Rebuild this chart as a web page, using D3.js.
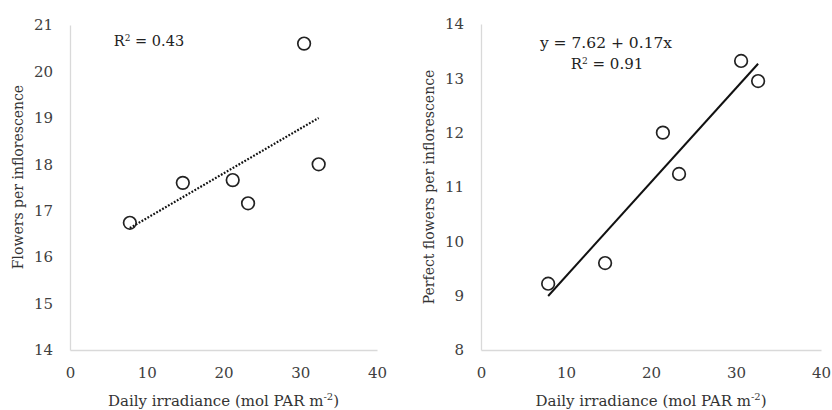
<!DOCTYPE html>
<html>
<head>
<meta charset="utf-8">
<script src="https://cdn.jsdelivr.net/npm/d3@7"></script>
<style>
    body { margin: 0; background: #fff; }
    svg { display: block; }
    text { font-family: "DejaVu Serif", "Liberation Serif", serif; }
</style>
</head>
<body>
<div id="chart"></div>
<script>
"use strict";

// panel A: flowers per inflorescence
const irradianceA = [7.8, 14.7, 21.2, 23.2, 30.5, 32.4];
const flowersA = [16.74, 17.6, 17.66, 17.16, 20.6, 18.0];
// panel B: perfect flowers per inflorescence
const irradianceB = [7.9, 14.6, 21.4, 23.3, 30.6, 32.6];
const perfectB = [9.22, 9.6, 12.0, 11.24, 13.32, 12.95];

const xTicks = [0, 10, 20, 30, 40];
const yTicksA = [14, 15, 16, 17, 18, 19, 20, 21];
const yTicksB = [8, 9, 10, 11, 12, 13, 14];

const width = 832;
const height = 410;

const svg = d3
    .select("#chart")
    .append("svg")
    .attr("width", width)
    .attr("height", height);

function linearFit(xs, ys) {
    const mx = d3.mean(xs);
    const my = d3.mean(ys);
    let sxy = 0;
    let sxx = 0;
    xs.forEach((x, i) => {
        sxy += (x - mx) * (ys[i] - my);
        sxx += (x - mx) * (x - mx);
    });
    const slope = sxy / sxx;
    return { slope, intercept: my - slope * mx };
}

function drawPanel(opt) {
    const xScale = d3.scaleLinear().domain([0, 40]).range(opt.xRange);
    const yScale = d3
        .scaleLinear()
        .domain(d3.extent(opt.yTicks))
        .range(opt.yRange);

    const g = svg.append("g");

    // axes
    const xAxis = d3
        .axisBottom(xScale)
        .tickValues(xTicks)
        .tickFormat(d3.format("d"))
        .tickSize(0)
        .tickSizeOuter(0)
        .tickPadding(17);
    const gx = g
        .append("g")
        .attr("transform", `translate(0, ${opt.yRange[0]})`)
        .call(xAxis);

    const yAxis = d3
        .axisLeft(yScale)
        .tickValues(opt.yTicks)
        .tickFormat(d3.format("d"))
        .tickSize(0)
        .tickSizeOuter(0)
        .tickPadding(17);
    const gy = g
        .append("g")
        .attr("transform", `translate(${opt.xRange[0]}, 0)`)
        .call(yAxis);

    [gx, gy].forEach(a => {
        a.select(".domain").attr("stroke", "#d9d9d9").attr("stroke-width", 1.3);
        a.selectAll("text")
            .attr("fill", "#404040")
            .style("font-size", "15px")
            .style("font-family", "DejaVu Serif");
    });

    // trend line
    const fit = linearFit(opt.xs, opt.ys);
    const x0 = d3.min(opt.xs);
    const x1 = d3.max(opt.xs);
    g.append("line")
        .attr("x1", xScale(x0))
        .attr("y1", yScale(fit.intercept + fit.slope * x0))
        .attr("x2", xScale(x1))
        .attr("y2", yScale(fit.intercept + fit.slope * x1))
        .attr("stroke", "#111")
        .attr("stroke-width", opt.dotted ? 2.2 : 2)
        .attr("stroke-dasharray", opt.dotted ? "1.8,1.6" : null);

    // points
    g.selectAll("circle")
        .data(opt.xs)
        .enter()
        .append("circle")
        .attr("cx", d => xScale(d))
        .attr("cy", (_, i) => yScale(opt.ys[i]))
        .attr("r", 6.3)
        .attr("fill", "#fff")
        .attr("fill-opacity", 0)
        .attr("stroke", "#222")
        .attr("stroke-width", 1.7);

    // x title
    const xt = g
        .append("text")
        .attr("x", (opt.xRange[0] + opt.xRange[1]) / 2)
        .attr("y", 406)
        .attr("text-anchor", "middle")
        .attr("fill", "#333")
        .style("font-size", "15px");
    xt.append("tspan").text("Daily irradiance (mol PAR m");
    xt.append("tspan").attr("dy", -6).style("font-size", "10px").text("-2");
    xt.append("tspan").attr("dy", 6).text(")");

    // y title
    g.append("text")
        .attr(
            "transform",
            `translate(${opt.yTitleX}, ${opt.yTitleY}) rotate(-90)`
        )
        .attr("text-anchor", "middle")
        .attr("dy", "0.35em")
        .attr("fill", "#333")
        .style("font-size", "14px")
        .text(opt.yTitle);

    // annotation lines
    opt.notes.forEach(n => {
        const t = g
            .append("text")
            .attr("x", n.x)
            .attr("y", n.y)
            .attr("text-anchor", "middle")
            .attr("fill", "#222")
            .style("font-size", n.size || "14px");
        if (n.r2) {
            t.append("tspan").text("R");
            t.append("tspan").attr("dy", -5).style("font-size", "9px").text("2");
            t.append("tspan").attr("dy", 5).text(` = ${n.r2}`);
        } else {
            t.text(n.text);
        }
    });
}

drawPanel({
    xs: irradianceA,
    ys: flowersA,
    yTicks: yTicksA,
    xRange: [70, 377],
    yRange: [350, 25],
    dotted: true,
    yTitle: "Flowers per inflorescence",
    yTitleX: 18,
    yTitleY: 177,
    notes: [{ x: 149, y: 46, r2: "0.43", size: "14.5px" }],
});

drawPanel({
    xs: irradianceB,
    ys: perfectB,
    yTicks: yTicksB,
    xRange: [481, 821],
    yRange: [350, 24],
    dotted: false,
    yTitle: "Perfect flowers per inflorescence",
    yTitleX: 429,
    yTitleY: 187,
    notes: [
        { x: 606, y: 48, text: "y = 7.62 + 0.17x", size: "15.5px" },
        { x: 607, y: 69, r2: "0.91", size: "15px" },
    ],
});
</script>
</body>
</html>
